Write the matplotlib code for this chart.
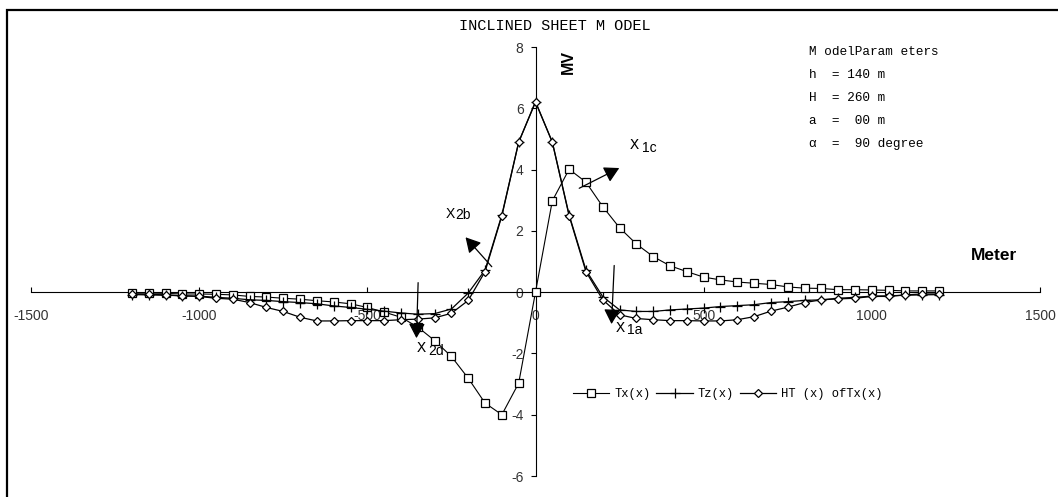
import matplotlib
matplotlib.use("Agg")
import matplotlib.pyplot as plt
from matplotlib.patches import Rectangle

plt.rcParams['axes.unicode_minus'] = False

# profile positions (m)
distance = [-1200, -1150, -1100, -1050, -1000, -950, -900, -850, -800, -750,
            -700, -650, -600, -550, -500, -450, -400, -350, -300, -250,
            -200, -150, -100, -50, 0, 50, 100, 150, 200, 250,
            300, 350, 400, 450, 500, 550, 600, 650, 700, 750,
            800, 850, 900, 950, 1000, 1050, 1100, 1150, 1200]

# horizontal gradient
tx = [-0.03, -0.03, -0.04, -0.06, -0.06, -0.07, -0.09, -0.14, -0.16, -0.20,
      -0.23, -0.28, -0.32, -0.38, -0.50, -0.65, -0.82, -1.14, -1.58, -2.10,
      -2.81, -3.62, -4.00, -2.97, 0.00, 2.98, 4.01, 3.59, 2.79, 2.10,
      1.57, 1.16, 0.86, 0.67, 0.49, 0.40, 0.33, 0.29, 0.25, 0.17,
      0.13, 0.12, 0.08, 0.08, 0.07, 0.06, 0.04, 0.04, 0.04]

# vertical gradient
tz = [-0.08, -0.09, -0.10, -0.12, -0.13, -0.17, -0.20, -0.25, -0.27, -0.31,
      -0.34, -0.38, -0.45, -0.50, -0.56, -0.62, -0.68, -0.72, -0.70, -0.55,
      -0.03, 0.72, 2.52, 4.90, 6.20, 4.90, 2.52, 0.72, -0.15, -0.58,
      -0.63, -0.63, -0.58, -0.55, -0.52, -0.47, -0.44, -0.41, -0.34, -0.31,
      -0.27, -0.25, -0.20, -0.17, -0.13, -0.12, -0.10, -0.09, -0.08]

# hilbert transform of Tx
ht = [-0.06, -0.07, -0.09, -0.12, -0.14, -0.20, -0.23, -0.34, -0.50, -0.63,
      -0.82, -0.94, -0.94, -0.93, -0.93, -0.93, -0.90, -0.88, -0.84, -0.69,
      -0.27, 0.67, 2.49, 4.89, 6.22, 4.89, 2.49, 0.67, -0.25, -0.74,
      -0.86, -0.90, -0.93, -0.93, -0.94, -0.94, -0.90, -0.80, -0.62, -0.49,
      -0.34, -0.25, -0.22, -0.20, -0.14, -0.14, -0.09, -0.06, -0.06]

x_ticks = [-1500, -1000, -500, 0, 500, 1000, 1500]
y_ticks = [-6, -4, -2, 0, 2, 4, 6, 8]

params = ["M odelParam eters", "h  = 140 m", "H  = 260 m", "a  =  00 m", "\u03b1  =  90 degree"]

mono = "Liberation Mono"
sans = "Liberation Sans"

fig = plt.figure(figsize=(10.58, 4.97), dpi=100)
fig.patches.append(Rectangle((6.5 / 1058, -0.2), 1.2, 1.2 - 10 / 497 + 0.0,
                             transform=fig.transFigure, fill=False,
                             edgecolor="black", linewidth=1.6))

ax = fig.add_axes([31 / 1058, 21 / 497, 1009 / 1058, 429 / 497])
ax.set_xlim(-1500, 1500)
ax.set_ylim(-6, 8)

ax.spines["left"].set_position(("data", 0))
ax.spines["bottom"].set_position(("data", 0))
ax.spines["top"].set_visible(False)
ax.spines["right"].set_visible(False)
for s in ("left", "bottom"):
    ax.spines[s].set_linewidth(0.8)

ax.set_xticks(x_ticks)
ax.set_yticks(y_ticks)
ax.set_xticklabels([str(v) for v in x_ticks], fontname=sans, fontsize=10, color="#333333")
ax.set_yticklabels([str(v) for v in y_ticks], fontname=sans, fontsize=10, color="#333333")
ax.tick_params(axis="x", direction="in", length=3.6, width=0.8, pad=12)
ax.tick_params(axis="y", direction="out", length=3.6, width=0.8, pad=5)

ax.plot(distance, tx, color="black", lw=0.8, marker="s", ms=6, mfc="white",
        mec="black", mew=0.9, label="Tx(x)", zorder=3)
ax.plot(distance, tz, color="black", lw=0.9, marker="+", ms=7, mew=0.9,
        label="Tz(x)", zorder=3)
ax.plot(distance, ht, color="black", lw=0.9, marker="D", ms=4.5, mfc="white",
        mec="black", mew=0.9, label="HT (x) ofTx(x)", zorder=3)

# source-edge markers
arrow = dict(arrowstyle="-|>,head_length=0.45,head_width=0.25", color="black",
             lw=0.9, mutation_scale=20, shrinkA=0, shrinkB=0)
ax.annotate("", xy=(249, 4.05), xytext=(130, 3.39), arrowprops=arrow, zorder=4)
ax.annotate("", xy=(-208, 1.79), xytext=(-130, 0.83), arrowprops=arrow, zorder=4)
ax.annotate("", xy=(226, -1.04), xytext=(234, 0.87), arrowprops=arrow, zorder=4)
ax.annotate("", xy=(-354, -1.5), xytext=(-349, 0.31), arrowprops=arrow, zorder=4)

ax.text(295, 4.81, "X", fontname=mono, fontsize=11, ha="center", va="center")
ax.text(337, 4.72, "1c", fontname=sans, fontsize=10, ha="center", va="center")
ax.text(-252, 2.56, "X", fontname=sans, fontsize=10, ha="center", va="center")
ax.text(-215, 2.52, "2b", fontname=sans, fontsize=10, ha="center", va="center")
ax.text(252, -1.17, "X", fontname=mono, fontsize=11, ha="center", va="center")
ax.text(296, -1.23, "1a", fontname=sans, fontsize=10, ha="center", va="center")
ax.text(-339, -1.83, "X", fontname=mono, fontsize=11, ha="center", va="center")
ax.text(-296, -1.92, "2d", fontname=sans, fontsize=10, ha="center", va="center")

# titles and axis names
fig.text(555 / 1058, 1 - 26 / 497, "INCLINED SHEET M ODEL", fontname=mono,
         fontsize=11, ha="center", va="center")
fig.text(568 / 1058, 1 - 62 / 497, "MV", fontname=sans, fontweight="bold",
         fontsize=11.5, rotation=90, ha="center", va="center")
fig.text(994 / 1058, 1 - 255 / 497, "Meter", fontname=sans, fontweight="bold",
         fontsize=12.5, ha="center", va="center")

for i, line in enumerate(params):
    fig.text(809 / 1058, 1 - (52 + 23 * i) / 497, line, fontname=mono,
             fontsize=9.2, ha="left", va="center")

fig.legend(loc="center left", bbox_to_anchor=(573 / 1058, 1 - 394 / 497),
           ncol=3, frameon=False, borderpad=0, borderaxespad=0,
           handlelength=3.0, handletextpad=0.4, columnspacing=0.5,
           prop={"family": mono, "size": 8.7})

fig.savefig("out.png", dpi=100)
